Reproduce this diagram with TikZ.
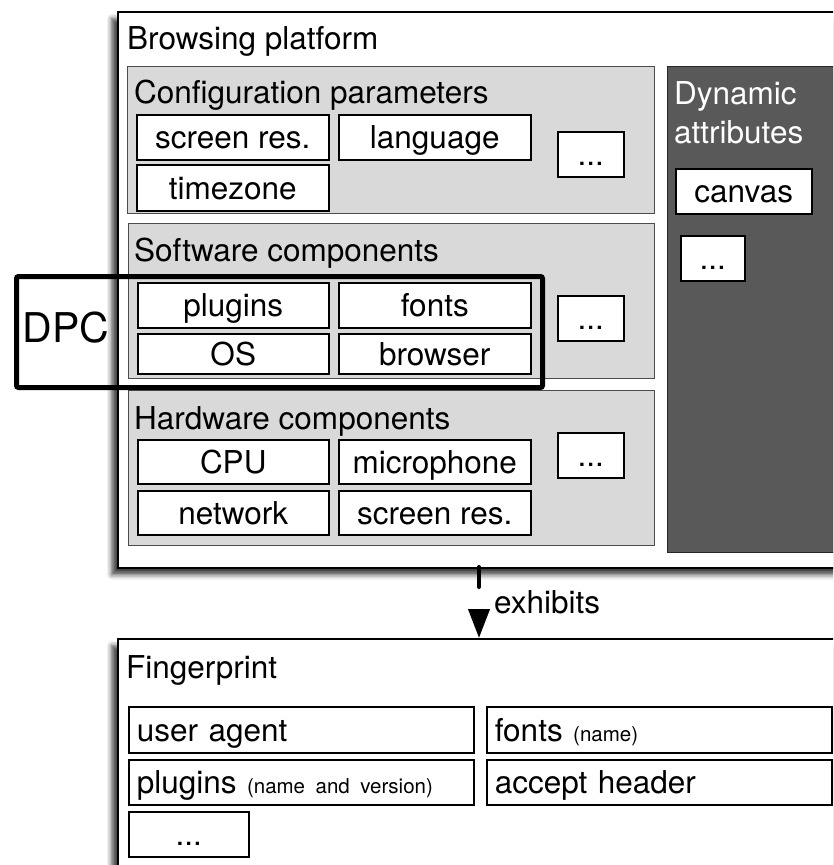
\documentclass[tikz,border=0pt]{standalone}
\usepackage{fontspec}
\setmainfont{TeX Gyre Heros}
\usetikzlibrary{arrows.meta,shadows.blur}

\tikzset{
  bigbox/.style={draw=black, fill=white, line width=1.5pt, anchor=north west, inner sep=0pt,
    blur shadow={shadow xshift=-6pt, shadow yshift=-7pt, shadow blur radius=5pt, shadow opacity=75}},
  panel/.style={draw=black!70, fill=black!15, line width=1pt, anchor=north west, inner sep=0pt},
  darkpanel/.style={draw=black!85, fill=black!65, line width=1pt, anchor=north west, inner sep=0pt},
  item/.style={draw=black, fill=white, line width=1.5pt, anchor=north west, inner sep=0pt,
    text height=22.5pt, text depth=0pt},
  fpitem/.style={draw=black, fill=white, line width=1.5pt, anchor=north west, inner xsep=8pt,
    inner ysep=0pt, text width=329pt, minimum height=46, align=left, text height=22.5pt, text depth=0pt},
  heading/.style={anchor=base west, inner sep=0pt},
}
\newcommand{\smalltxt}[1]{{\fontsize{20.5}{24}\selectfont #1}}

\begin{document}
\begin{tikzpicture}[x=1pt, y=-1pt, font=\fontsize{31.5}{38}\selectfont]
    \useasboundingbox (0,0) rectangle (833,865);
    \clip (0,0) rectangle (833,865);

    % browsing platform
    \node[bigbox, minimum width=783, minimum height=556] (platform) at (117,11) {};
    \node[heading] (platformtitle) at (127,49) {Browsing platform};

    \node[panel, minimum width=527, minimum height=147] (config) at (127,66) {};
    \node[panel, minimum width=526, minimum height=155] (software) at (128,223) {};
    \node[panel, minimum width=526, minimum height=155] (hardware) at (128,390) {};
    \node[darkpanel, minimum width=240, minimum height=486] (dynamic) at (667,66) {};

    \node[heading] (configtitle) at (134,103) {Configuration parameters};
    \node[heading] (softwaretitle) at (134,261) {Software components};
    \node[heading] (hardwaretitle) at (134,429) {Hardware components};
    \node[heading, text=white] (dyntitle) at (674,104) {Dynamic};
    \node[heading, text=white] (dyntitleb) at (674,143) {attributes};

    % configuration parameters
    \node[item, minimum width=192, minimum height=45] (cfgres) at (136,114) {screen res.};
    \node[item, minimum width=192, minimum height=45] (cfglang) at (338,114) {language};
    \node[item, minimum width=192, minimum height=46] (cfgtz) at (136,164) {timezone};
    \node[item, minimum width=66, minimum height=45] (cfgmore) at (557,131) {...};

    % dynamic attributes
    \node[item, minimum width=136, minimum height=45] (canvas) at (675,168) {canvas};
    \node[item, minimum width=64, minimum height=45] (dynmore) at (680,235) {...};

    % software components
    \node[item, minimum width=191, minimum height=45] (plugins) at (137,282) {plugins};
    \node[item, minimum width=192, minimum height=45] (fonts) at (338,282) {fonts};
    \node[item, minimum width=191, minimum height=40] (os) at (137,333) {OS};
    \node[item, minimum width=192, minimum height=40] (browser) at (338,333) {browser};
    \node[item, minimum width=66, minimum height=45] (swmore) at (557,295) {...};

    % hardware components
    \node[item, minimum width=191, minimum height=44] (cpu) at (137,439) {CPU};
    \node[item, minimum width=192, minimum height=44] (micro) at (338,439) {microphone};
    \node[item, minimum width=191, minimum height=44] (network) at (137,490) {network};
    \node[item, minimum width=192, minimum height=44] (hwres) at (338,490) {screen res.};
    \node[item, minimum width=66, minimum height=45] (hwmore) at (557,432) {...};

    % DPC frame
    \node[draw=black, line width=5pt, rounded corners=2pt, anchor=north west, inner sep=0pt,
        minimum width=526, minimum height=111] (dpc) at (14,274) {};
    \node[font=\fontsize{41}{48}\selectfont, inner sep=0pt] (dpclabel) at (66,328) {DPC};

    % fingerprint
    \node[bigbox, minimum width=783, minimum height=300] (fprint) at (117,638) {};
    \node[heading] (fprinttitle) at (126,678) {Fingerprint};
    \node[fpitem] (useragent) at (128,706) {user agent};
    \node[fpitem] (fpfonts) at (486,706) {fonts \smalltxt{(name)}};
    \node[fpitem, minimum height=45] (fpplugins) at (128,759) {plugins \smalltxt{(name and version)}};
    \node[fpitem, minimum height=45] (accept) at (486,759) {accept header};
    \node[item, minimum width=120, minimum height=45] (fpmore) at (128,811) {...};

    % exhibits
    \coordinate (exhtop) at (479,567);
    \draw[line width=4pt, line cap=round, dash pattern=on 20pt off 40pt,
        -{Triangle[width=21pt, length=29pt]}] (exhtop) -- (exhtop |- fprint.north);
    \node[heading] (exhibits) at (494,613) {exhibits};
\end{tikzpicture}
\end{document}
